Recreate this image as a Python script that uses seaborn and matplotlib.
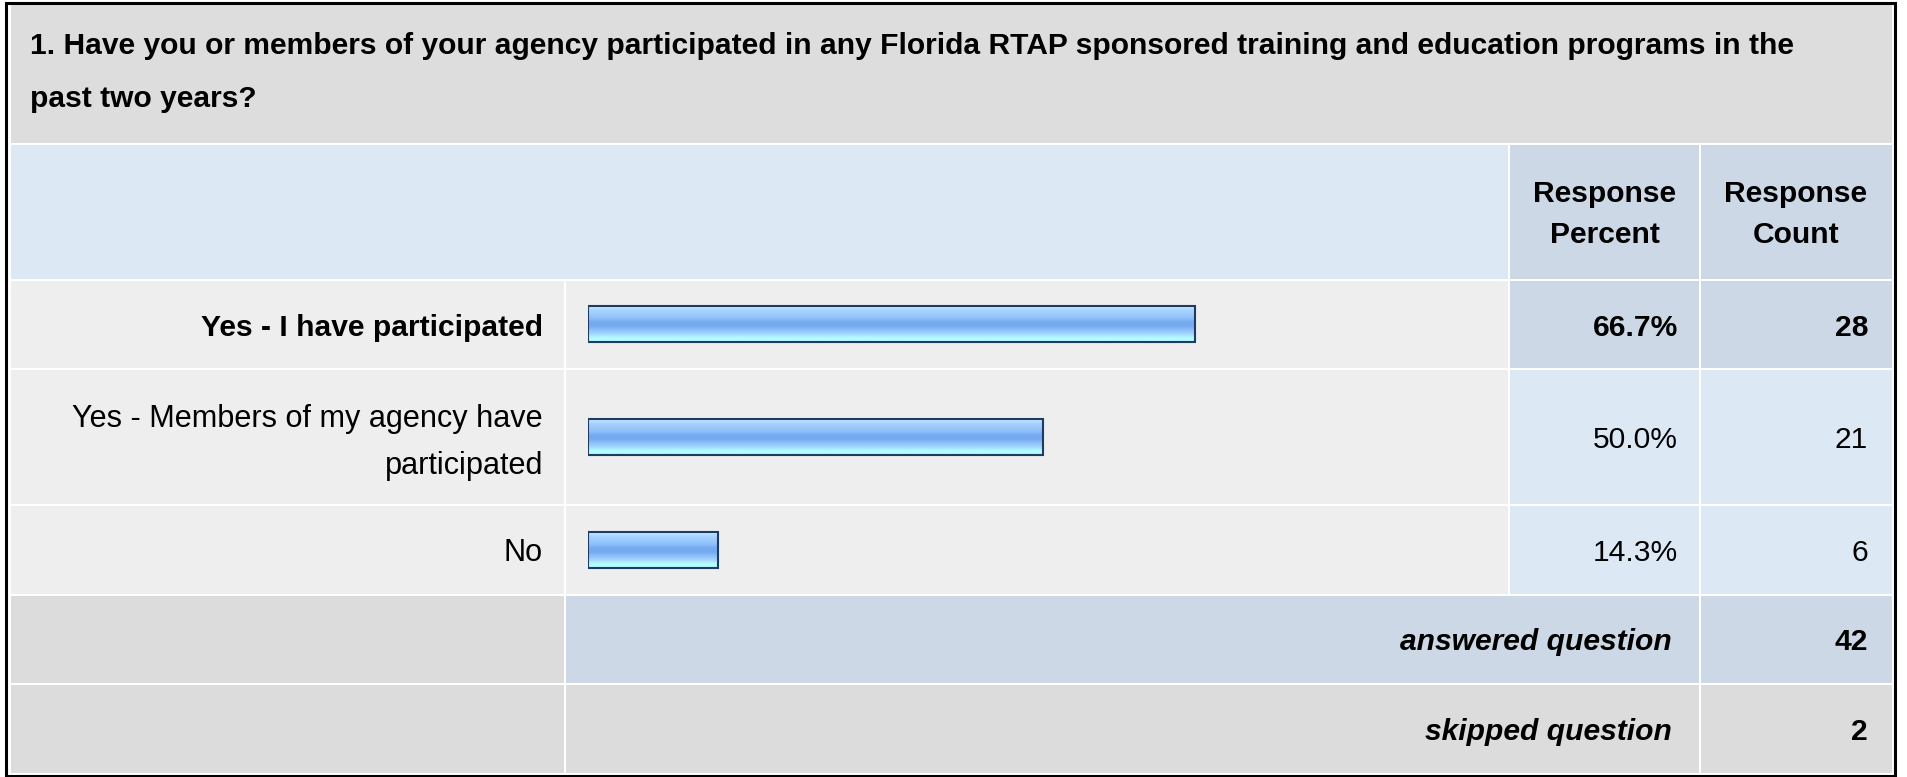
import matplotlib
matplotlib.use("Agg")
import matplotlib.pyplot as plt
from matplotlib.patches import Rectangle
from matplotlib.colors import LinearSegmentedColormap
import numpy as np
import pandas as pd
import seaborn as sns

# survey data
question = [
    "1. Have you or members of your agency participated in any Florida RTAP sponsored training and education programs in the",
    "past two years?",
]
answers = ["Yes - I have participated", "Yes - Members of my agency have\nparticipated", "No"]
percents = [66.7, 50.0, 14.3]
counts = [28, 21, 6]
answered_count = 42
skipped_count = 2

W, H = 1907, 777
sns.set_theme(style="white")
plt.rcParams["font.family"] = ["Liberation Sans", "DejaVu Sans"]
FS = 21.6

TITLE_BG = "#dddddd"
HEAD_BG = "#dde8f5"
DARK_BG = "#ccd8e6"
ROW_BG = "#eeeeee"
GRAY_BG = "#dcdcdc"

fig = plt.figure(figsize=(W / 100, H / 100), dpi=100)
fig.patch.set_facecolor("white")
ax = fig.add_axes([0, 0, 1, 1])
ax.set_xlim(0, W)
ax.set_ylim(H, 0)
ax.axis("off")


def cell(x0, x1, y0, y1, c):
    ax.add_patch(Rectangle((x0, y0), x1 - x0, y1 - y0, facecolor=c, edgecolor="none", zorder=1))


def txt(x, y, s, ha="right", size=FS, **kw):
    ax.text(x, y, s, ha=ha, va="baseline", fontsize=size, color="black", zorder=3, **kw)


# column / row edges (pixels)
c0, c1, c2, c3 = (11, 564), (566, 1508), (1510, 1699), (1701, 1892)
r_title, r_head = (5, 143), (145, 279)
rows = [(281, 368), (370, 504), (506, 594)]
r_ans, r_skip = (596, 683), (685, 773)

cell(c0[0], c3[1], *r_title, TITLE_BG)
cell(c0[0], c1[1], *r_head, HEAD_BG)
cell(*c2, *r_head, DARK_BG)
cell(*c3, *r_head, DARK_BG)
for i, r in enumerate(rows):
    cell(*c0, *r, ROW_BG)
    cell(*c1, *r, ROW_BG)
    cell(*c2, *r, DARK_BG if i == 0 else HEAD_BG)
    cell(*c3, *r, DARK_BG if i == 0 else HEAD_BG)
cell(*c0, *r_ans, GRAY_BG)
cell(c1[0], c2[1], *r_ans, DARK_BG)
cell(*c3, *r_ans, DARK_BG)
cell(*c0, *r_skip, GRAY_BG)
cell(c1[0], c2[1], *r_skip, GRAY_BG)
cell(*c3, *r_skip, GRAY_BG)

ax.add_patch(Rectangle((6, 3), 1888.5, 772.5, fill=False, edgecolor="black", linewidth=2.2, zorder=5))

# title
txt(30, 54, question[0], ha="left", fontweight="bold")
txt(30, 107, question[1], ha="left", fontweight="bold")

# header
for cx, word in [(1605, "Percent"), (1796, "Count")]:
    txt(cx, 202, "Response", ha="center", fontweight="bold")
    txt(cx, 243, word, ha="center", fontweight="bold")

# rows
for i, (r, lab, pct, cnt) in enumerate(zip(rows, answers, percents, counts)):
    mid = (r[0] + r[1]) / 2
    w = "bold" if i == 0 else "normal"
    sz = FS if i == 0 else 22.1
    lines = lab.split("\n")
    if len(lines) == 1:
        txt(543, mid + 11, lab, size=sz, fontweight=w)
    else:
        txt(543, 427, lines[0], size=sz, fontweight=w)
        txt(543, 474, lines[1], size=sz, fontweight=w)
    txt(1678, mid + 11, f"{pct:.1f}%", fontweight=w)
    txt(1868, mid + 11, str(cnt), fontweight=w)

ans_mid = (r_ans[0] + r_ans[1]) / 2
skip_mid = (r_skip[0] + r_skip[1]) / 2
txt(1672, ans_mid + 11, "answered question", fontweight="bold", fontstyle="italic")
txt(1868, ans_mid + 11, str(answered_count), fontweight="bold")
txt(1672, skip_mid + 11, "skipped question", fontweight="bold", fontstyle="italic")
txt(1868, skip_mid + 11, str(skipped_count), fontweight="bold")

# bars
bx0, bx1 = 588, 1498
by0, by1 = 267.5, 606.5
axb = fig.add_axes([bx0 / W, 1 - by1 / H, (bx1 - bx0) / W, (by1 - by0) / H])
axb.patch.set_alpha(0)
df = pd.DataFrame({"answer": answers, "percent": percents})
sns.barplot(data=df, x="percent", y="answer", orient="h", ax=axb,
            width=36 / 113, color="#8ebcf5", edgecolor="#1d3b63", linewidth=1.5)

grad = ["#cce8ff", "#a8d4ff", "#9ccaff", "#8ec0fa", "#76aaf0", "#76aaf0",
        "#8ec0f8", "#a2d6ff", "#b4fcff", "#b4fcff"]
cmap = LinearSegmentedColormap.from_list("bargrad", grad)
g = np.linspace(0, 1, 64).reshape(-1, 1)
for p in axb.patches:
    x, y = p.get_x(), p.get_y()
    w, h = p.get_width(), p.get_height()
    p.set_facecolor("none")
    p.set_zorder(3)
    axb.imshow(g, cmap=cmap, aspect="auto", extent=(x, x + w, y + h, y),
               origin="upper", zorder=2, interpolation="bilinear")

axb.set_xlim(0, 100)
axb.set_ylim(2.5, -0.5)
axb.axis("off")

fig.savefig("out.png", dpi=100)
